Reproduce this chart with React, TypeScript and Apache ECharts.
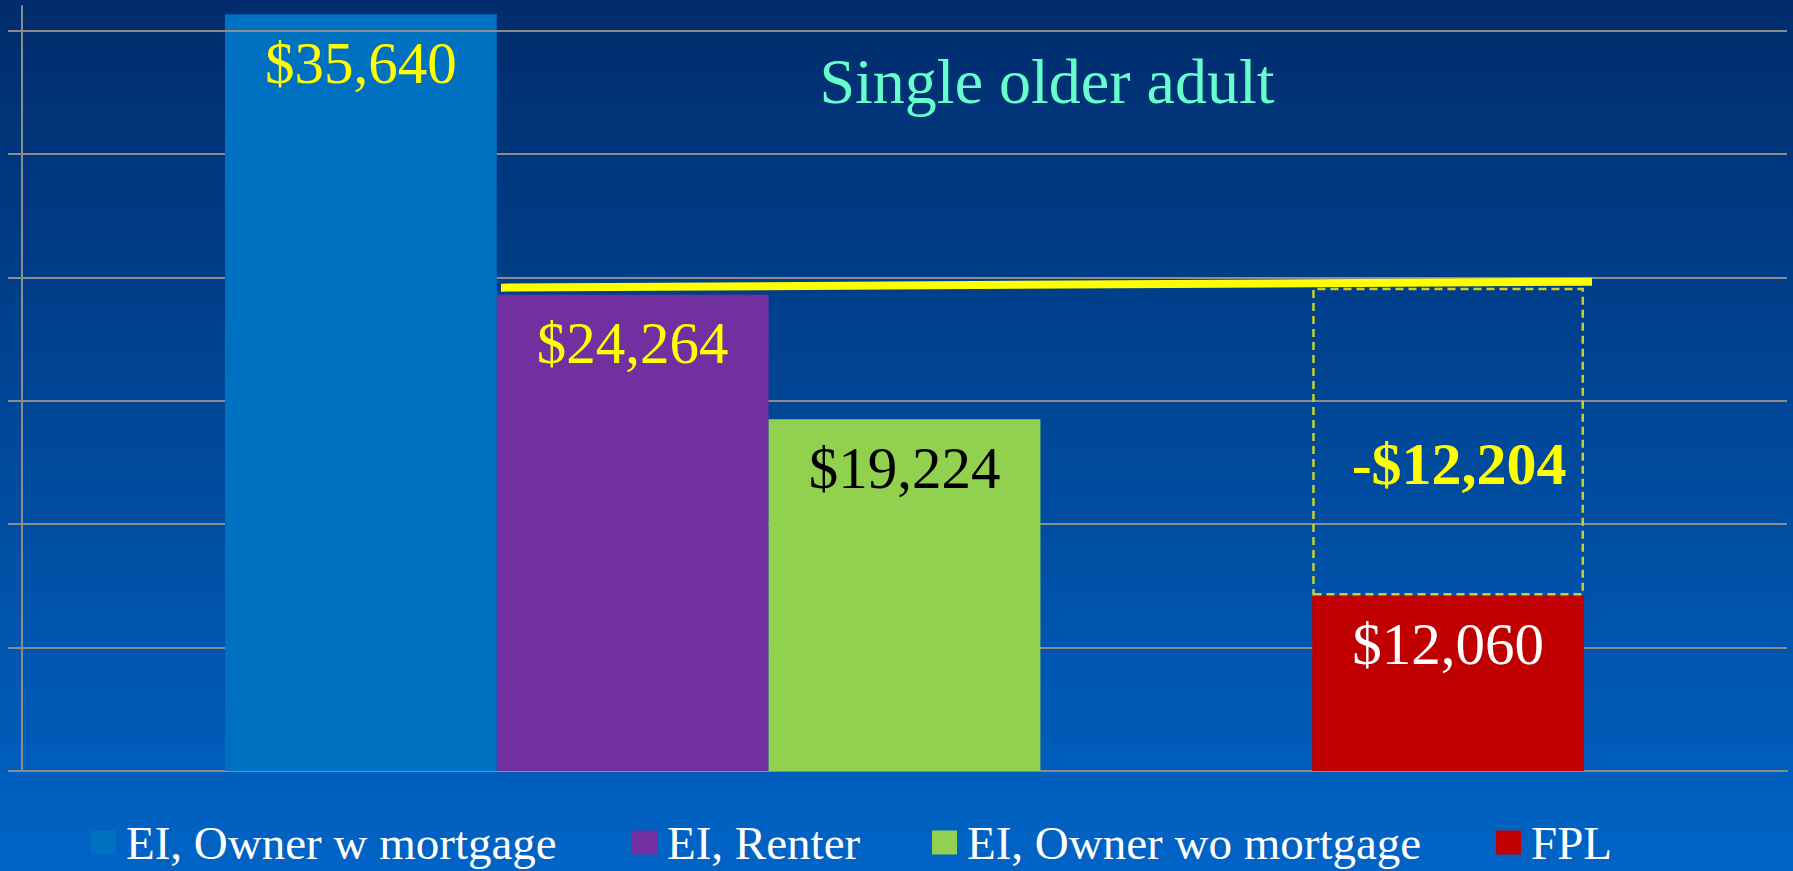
import React, { useEffect, useRef } from "react";
import * as echarts from "echarts";

// ---- data ----
const categories = [""];
const seriesNames = ["EI, Owner w mortgage", "EI, Renter", "EI, Owner wo mortgage", "FPL"];
// values printed on the bars
const labelValues = [35640, 24264, 19224, 12060];
// bar heights as drawn on the (unlabelled) value axis
const barHeights = [36800, 23160, 17100, 8530];
// top of the dashed "gap" box above FPL, on the value axis
const gapTop = 23500;
// unlabelled gridline values
const tickValues = [0, 6000, 12000, 18000, 24000, 30000, 36000];
const axisMax = 37200;
// yellow reference line: [slot position, value] at both ends
const refLineStart = [1.761, 23504];
const refLineEnd = [5.772, 23796];

const barColors = ["#0070C0", "#7030A0", "#92D050", "#C00000"];
const labelColors = ["#FFFF00", "#FFFF00", "#000000", "#FFFFFF"];
const legendLefts = [91, 632, 932, 1496];

const FONT = "'Times New Roman', 'Liberation Serif', serif";
const fmt = (v: number) =>
  (v < 0 ? "-" : "") + "$" + Math.abs(v).toLocaleString("en-US");

export default function App() {
  const ref = useRef<HTMLDivElement>(null);
  useEffect(() => {
    if (!ref.current) return;
    const chart = echarts.init(ref.current, undefined, { renderer: "svg" });
    const gridColor = "#8C8C8C";

    const barSeries = (i: number): any => ({
      type: "bar",
      name: seriesNames[i],
      data: [barHeights[i]],
      z: 3,
      itemStyle: { color: barColors[i] },
      label: {
        show: true,
        position: "insideTop",
        distance: 19,
        formatter: () => fmt(labelValues[i]),
        color: labelColors[i],
        fontSize: 59,
        fontFamily: FONT,
      },
    });

    const gapValue = labelValues[3] - labelValues[1];

    chart.setOption({
      animation: false,
      backgroundColor: new echarts.graphic.LinearGradient(0, 0, 0, 1, [
        { offset: 0, color: "#002C6C" },
        { offset: 1, color: "#0064C6" },
      ]),
      title: {
        text: "Single older adult",
        left: 1047,
        top: 49,
        padding: 0,
        textAlign: "center",
        textStyle: { color: "#66FFCC", fontSize: 64, fontWeight: "normal", fontFamily: FONT },
      },
      legend: seriesNames.map((n, i) => ({
        data: [n],
        left: legendLefts[i],
        top: 819,
        padding: 0,
        icon: "rect",
        itemWidth: 25,
        itemHeight: 24,
        selectedMode: false,
        textStyle: {
          color: "#FFFFFF",
          fontSize: 47,
          fontFamily: FONT,
          padding: [0, 0, 0, 5],
        },
      })),
      grid: { left: 22, right: 6, top: 6, bottom: 100, containLabel: false },
      xAxis: [
        {
          type: "category",
          data: categories,
          axisLine: { show: true, lineStyle: { color: gridColor, width: 2 } },
          axisTick: { show: false },
          axisLabel: { show: false },
        },
        {
          type: "value",
          min: 0,
          max: 1765 / 272,
          show: false,
        },
      ],
      yAxis: {
        type: "value",
        min: 0,
        max: axisMax,
        interval: 6000,
        axisLine: { show: true, lineStyle: { color: gridColor, width: 2 } },
        axisTick: {
          show: true,
          length: 14,
          customValues: tickValues,
          lineStyle: { color: gridColor, width: 2 },
        },
        axisLabel: { show: false },
        splitLine: { show: true, showMaxLine: false, lineStyle: { color: gridColor, width: 2 } },
      },
      series: [
        { ...barSeries(0), barGap: 0, barCategoryGap: "23%" },
        barSeries(1),
        barSeries(2),
        {
          type: "bar",
          name: "",
          data: [null],
          z: 1,
          markLine: {
            silent: true,
            symbol: "none",
            label: { show: false },
            lineStyle: { color: gridColor, width: 2, type: "solid" },
            data: [{ yAxis: tickValues[tickValues.length - 1] }],
          },
        },
        { ...barSeries(3), stack: "fpl" },
        {
          type: "bar",
          name: "gap",
          stack: "fpl",
          z: 3,
          data: [gapTop - barHeights[3]],
          itemStyle: {
            color: "rgba(0,0,0,0)",
            borderColor: "#C8D02C",
            borderWidth: 2.5,
            borderType: [8, 5],
          },
          label: {
            show: true,
            position: "inside",
            offset: [11, 22],
            formatter: () => fmt(gapValue),
            color: "#FFFF00",
            fontSize: 60,
            fontWeight: "bold",
            fontFamily: FONT,
          },
        },
        {
          type: "line",
          name: "ref",
          xAxisIndex: 1,
          yAxisIndex: 0,
          data: [refLineStart, refLineEnd],
          symbol: "none",
          z: 5,
          lineStyle: { color: "#FFFF00", width: 8 },
        },
      ],
    });
    return () => chart.dispose();
  }, []);
  return (
    <div
      ref={ref}
      style={{ position: "absolute", left: 0, top: 0, width: 1793, height: 871 }}
    />
  );
}
